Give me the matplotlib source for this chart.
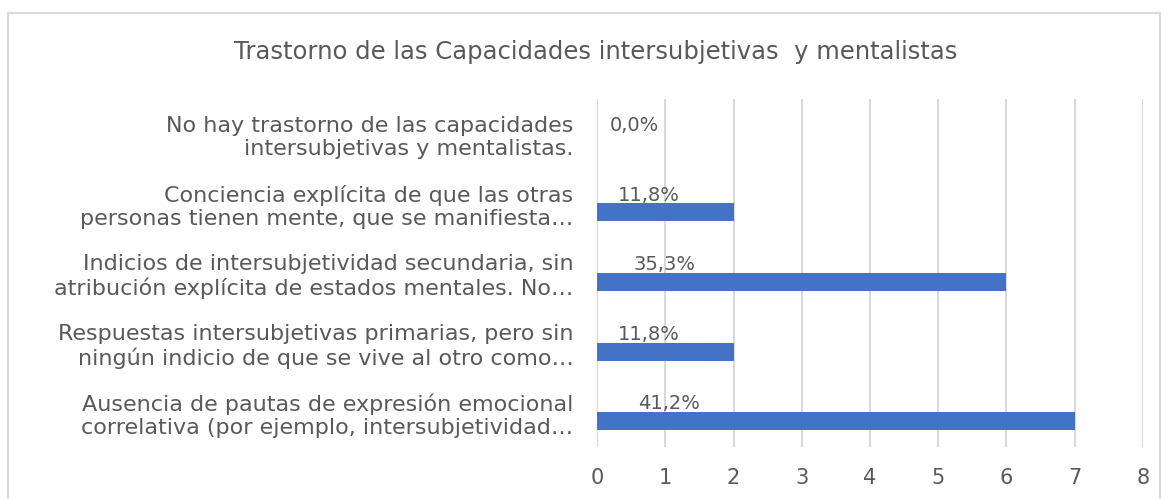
import matplotlib
matplotlib.use("Agg")
import matplotlib.pyplot as plt
from matplotlib.patches import Rectangle

# data (bottom category first, like the Excel chart)
categories = [
    "Ausencia de pautas de expresión emocional\ncorrelativa (por ejemplo, intersubjetividad…",
    "Respuestas intersubjetivas primarias, pero sin\nningún indicio de que se vive al otro como…",
    "Indicios de intersubjetividad secundaria, sin\natribución explícita de estados mentales. No…",
    "Conciencia explícita de que las otras\npersonas tienen mente, que se manifiesta…",
    "No hay trastorno de las capacidades\nintersubjetivas y mentalistas.",
]
counts = [7, 2, 6, 2, 0]
percents = [0.412, 0.118, 0.353, 0.118, 0.0]
pct_labels = ["41,2%", "11,8%", "35,3%", "11,8%", "0,0%"]
xticks = [0, 1, 2, 3, 4, 5, 6, 7, 8]
title = "Trastorno de las Capacidades intersubjetivas  y mentalistas"

plt.rcParams["font.family"] = ["DejaVu Sans"]
text_color = "#595959"

fig = plt.figure(figsize=(11.7, 4.99), dpi=100)
ax = fig.add_axes([0.5103, 0.1042, 0.4666, 0.6974])

# chart frame
fig.patches.append(Rectangle((8 / 1170, -0.05), 1152 / 1170, 1.05 - 13 / 499,
                             transform=fig.transFigure, fill=False,
                             edgecolor="#d9d9d9", linewidth=1.5))

y = list(range(len(categories)))
bar_offset = 0.13
ax.barh([v - bar_offset for v in y], counts, height=0.26, color="#4472c4", zorder=3)

for yi, p, lab in zip(y, percents, pct_labels):
    ax.annotate(lab, (p, yi + 0.12), xytext=(9, 0), textcoords="offset points",
                ha="left", va="center", fontsize=14, color=text_color, zorder=4)

ax.set_xlim(0, 8)
ax.set_ylim(-0.5, 4.5)
ax.set_xticks(xticks)
ax.set_yticks(y)
ax.set_yticklabels(categories, fontsize=16, color=text_color, linespacing=1.2)
ax.tick_params(axis="x", length=0, pad=15, labelsize=15, labelcolor=text_color)
ax.tick_params(axis="y", length=0, pad=17)
ax.grid(axis="x", color="#d9d9d9", linewidth=1.5, zorder=0)
for s in ax.spines.values():
    s.set_visible(False)

fig.text(596 / 1170, 1 - 52 / 499, title, ha="center", va="center",
         fontsize=17.5, color=text_color)

fig.savefig("out.png", dpi=100)
